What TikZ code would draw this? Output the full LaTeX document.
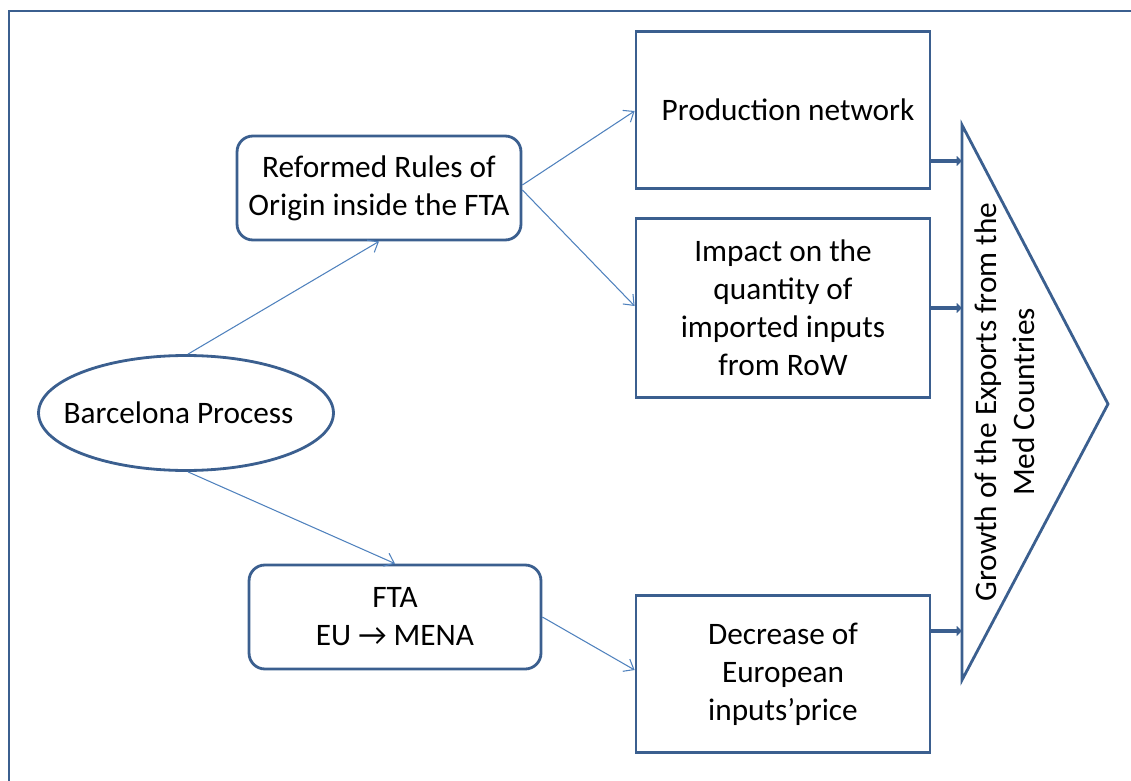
\documentclass[tikz,border=0pt]{standalone}
\usepackage{fontspec}
\setmainfont{Carlito}
\usetikzlibrary{shapes.geometric, arrows.meta, positioning, calc}
\definecolor{FrameBlue}{HTML}{3B5F8F}
\definecolor{LineBlue}{HTML}{4F81BD}

\begin{document}
\begin{tikzpicture}[
  x = 0.02cm, y = -0.02cm,
  every node/.style = {font=\fontsize{17.8}{21.6}\selectfont},
  box/.style = {
    rectangle, draw=FrameBlue, line width=1.6pt,
    minimum width=5.88cm, align=center, fill=white
  },
  rbox/.style    = {box, rounded corners=9pt},
  procell/.style = {ellipse, draw=FrameBlue, line width=1.6pt,
                    minimum width=5.9cm, minimum height=2.3cm},
  arr/.style     = {-{Straight Barb[length=5pt, width=8pt]}, line width=0.6pt, color=LineBlue},
  bigarr/.style  = {-{Triangle[length=3pt, width=5.5pt]}, line width=2.6pt, color=FrameBlue},
]

% page and outer frame
\clip (0,0) rectangle (1131,780);
\draw[FrameBlue, line width=1.7pt] (9,11) rectangle (1160,820);

% Process node
\node[procell] (bp) at (186,413) {\makebox[3cm]{Barcelona Process\hspace{0.3cm}}};

% Middle column
\node[rbox, minimum width=5.68cm, minimum height=2.08cm] (roo) at (379,188)
      {Reformed Rules of\\Origin inside the FTA};
\node[rbox, minimum width=5.84cm, minimum height=2.08cm] (fta) at (395,617)
      {FTA\\EU → MENA};

% Effects column
\node[box, minimum height=3.14cm] (prod) at (783,110) {\hspace{0.2cm}Production network};
\node[box, minimum height=3.58cm] (imp) at (783,308)
      {Impact on the\\quantity of\\imported inputs\\from RoW};
\node[box, minimum height=3.14cm] (dec) at (783,674)
      {Decrease of\\European\\inputs'price};

% Growth triangle
\coordinate (tritop) at (962,125);
\coordinate (tribot) at (962,680);
\coordinate (tritip) at (1108,404);
\draw[FrameBlue, line width=1.6pt, line join=miter] (tritop) -- (tritip) -- (tribot) -- cycle;
\node[rotate=90, align=center] (growth) at (1005,402)
      {Growth of the Exports from the\\Med Countries};

% feet of the thick arrows
\coordinate (prodout) at ($(prod.east)+(0,51)$);
\coordinate (decout) at ($(dec.east)+(0,-43)$);

% Arrows
\draw[arr] ($(bp.north)+(2,0)$) -- (roo.south);
\draw[arr] ($(bp.south)+(2,0)$) -- (fta.north);
\draw[arr] ($(roo.east)+(0,-3)$) -- ($(prod.west)+(0,1)$);
\draw[arr] ($(roo.east)+(0,2)$) -- ($(imp.west)+(0,-2)$);
\draw[arr] (fta.east) -- ($(dec.west)+(0,-4)$);
\draw[bigarr] (prodout) -- (prodout -| tritop);
\draw[bigarr] (imp.east) -- (imp.east -| tritop);
\draw[bigarr] (decout) -- (decout -| tritop);

\end{tikzpicture}
\end{document}
